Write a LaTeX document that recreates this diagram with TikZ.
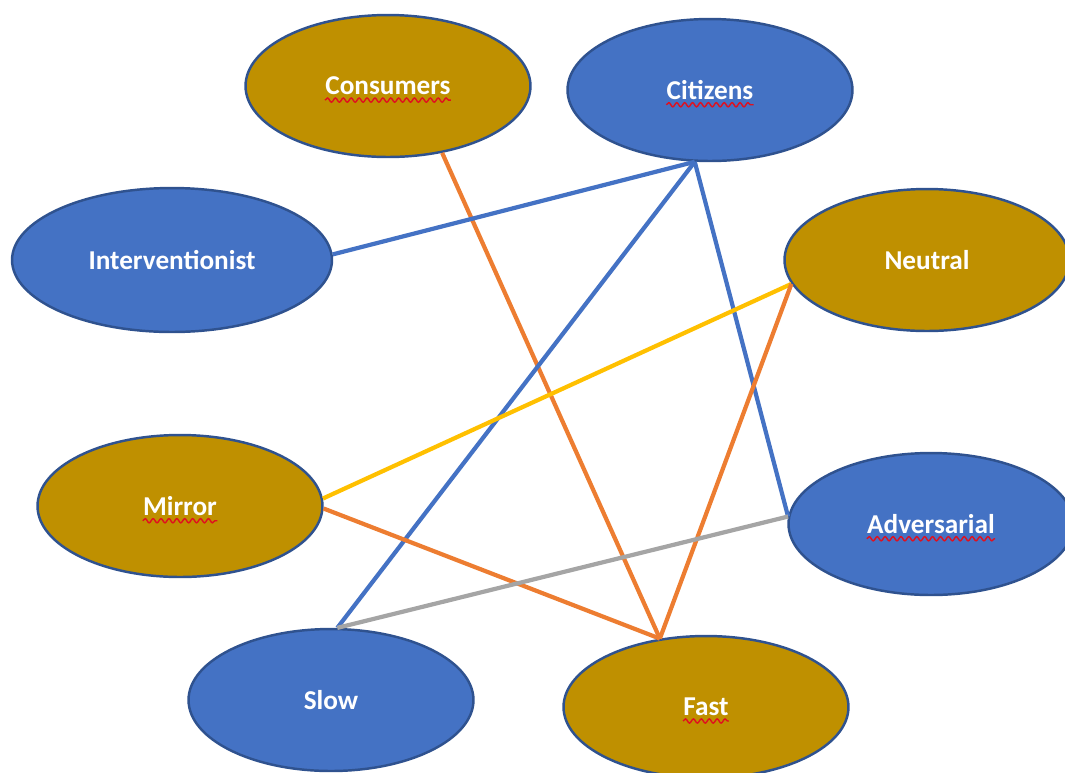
\documentclass[tikz,border=0pt]{standalone}
\usepackage{fontspec}
\setmainfont{Carlito}
\usetikzlibrary{shapes.geometric,decorations.pathmorphing}
\definecolor{blobblue}{HTML}{4472C4}
\definecolor{rim}{HTML}{2F528F}
\definecolor{gold}{HTML}{BF9000}
\definecolor{wire}{HTML}{ED7D31}
\definecolor{amber}{HTML}{FFC000}
\definecolor{grey}{HTML}{A5A5A5}
\definecolor{spell}{HTML}{E0101E}
\tikzset{
  blob/.style={ellipse, draw=rim, line width=1.4pt, minimum width=5.7cm, minimum height=2.84cm},
  lbl/.style={text=white, font=\fontsize{15.5}{18}\selectfont\bfseries, inner sep=0pt},
  link/.style={line width=2.4pt},
  squig/.style={draw=spell, line width=0.8pt, decorate, decoration={snake, amplitude=1.2pt, segment length=4.5pt}},
}

\begin{document}
\begin{tikzpicture}[x=0.02cm, y=-0.02cm]
  \useasboundingbox (0,0) rectangle (1065,772);
  \clip (0,0) rectangle (1065,772);

  % the eight ellipses
  \node[blob, fill=gold] (con) at (388,86) {};
  \node[blob, fill=blobblue] (cit) at (710,90) {};
  \node[blob, fill=blobblue, minimum width=6.4cm, minimum height=2.88cm] (int) at (172,260) {};
  \node[blob, fill=gold] (neu) at (927,260) {};
  \node[blob, fill=gold] (mir) at (180,506) {};
  \node[blob, fill=blobblue] (adv) at (931,524) {};
  \node[blob, fill=blobblue] (slo) at (331,700) {};
  \node[blob, fill=gold] (fst) at (706,707) {};

  \node[lbl] (con-t) at (con) {Consumers};
  \node[lbl] (cit-t) at (cit) {Citizens};
  \node[lbl] (int-t) at (int) {Interventionist};
  \node[lbl] (neu-t) at (neu) {Neutral};
  \node[lbl] (mir-t) at (mir) {Mirror};
  \node[lbl] (adv-t) at (adv) {Adversarial};
  \node[lbl] (slo-t) at (slo) {Slow};
  \node[lbl] (fst-t) at (fst) {Fast};

  % spell-check marks
  \foreach \w in {con-t,cit-t,mir-t,adv-t,fst-t}
    \draw[squig] ([yshift=-3pt]\w.base west) -- ([yshift=-3pt]\w.base east);

  % links
  \draw[link, wire] (con.309) -- (fst.124);
  \draw[link, blobblue] (cit.258) -- (int.2);
  \draw[link, blobblue] (cit.258) -- (slo.85);
  \draw[link, blobblue] (cit.258) -- (adv.177);
  \draw[link, amber] (neu.190) -- (mir.3);
  \draw[link, wire] (neu.190) -- (fst.124);
  \draw[link, wire] (mir.-1) -- (fst.124);
  \draw[link, grey] (adv.177) -- (slo.85);
\end{tikzpicture}
\end{document}
